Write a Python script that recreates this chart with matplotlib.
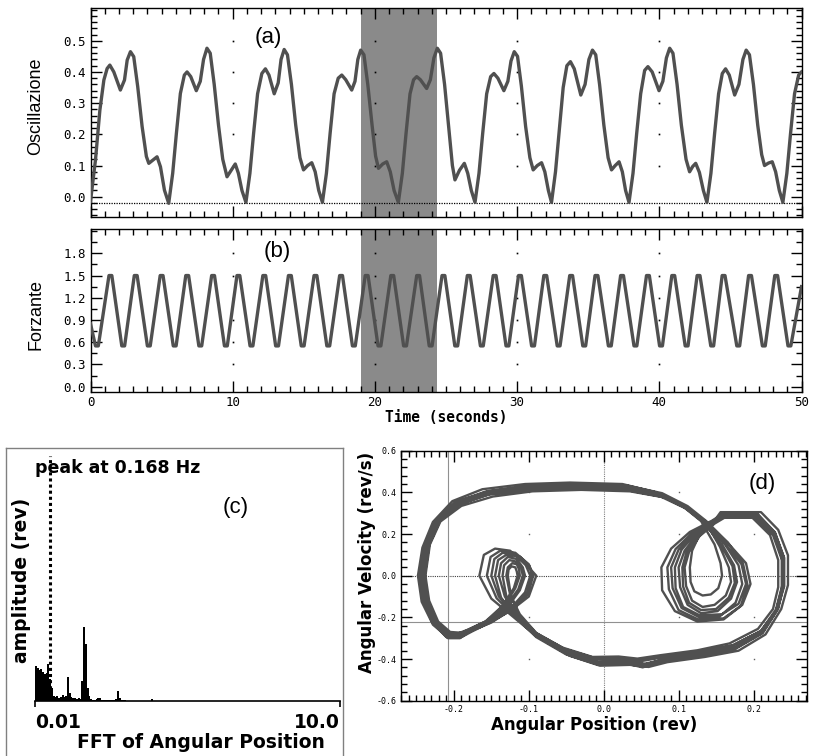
import numpy as np
import matplotlib.pyplot as plt
from matplotlib.ticker import MultipleLocator

# (a) oscillation (seconds / amplitude)
osc_t = [0.00, 0.35, 0.66, 0.94, 1.17, 1.36, 1.64, 2.10, 2.39, 2.58, 2.81, 3.04, 3.32, 3.63, 3.93, 4.10, 4.40, 4.68, 4.92, 5.20,
         5.50, 5.78, 6.04, 6.32, 6.60, 6.79, 7.05, 7.44, 7.72, 7.95, 8.19, 8.42, 8.70, 9.00, 9.30, 9.60, 9.90, 10.18, 10.40, 10.65,
         10.93, 11.21, 11.47, 11.75, 12.05, 12.30, 12.55, 12.92, 13.20, 13.40, 13.62, 13.85, 14.13, 14.43, 14.73, 14.98, 15.27, 15.56, 15.80, 16.05,
         16.31, 16.59, 16.85, 17.13, 17.42, 17.67, 17.95, 18.37, 18.60, 18.80, 19.00, 19.23, 19.50, 19.80, 20.05, 20.25, 20.55, 20.83, 21.08, 21.35,
         21.65, 21.93, 22.19, 22.47, 22.72, 22.94, 23.20, 23.64, 23.90, 24.15, 24.39, 24.62, 24.90, 25.20, 25.45, 25.63, 25.95, 26.29, 26.53, 26.78,
         27.04, 27.32, 27.58, 27.86, 28.14, 28.37, 28.65, 29.07, 29.35, 29.57, 29.80, 30.03, 30.30, 30.60, 30.90, 31.13, 31.42, 31.72, 31.95, 32.20,
         32.42, 32.70, 32.96, 33.24, 33.50, 33.75, 34.02, 34.48, 34.78, 35.05, 35.30, 35.53, 35.80, 36.10, 36.40, 36.64, 36.90, 37.17, 37.40, 37.63,
         37.87, 38.15, 38.41, 38.69, 38.97, 39.20, 39.50, 39.98, 40.25, 40.50, 40.73, 40.96, 41.25, 41.55, 41.88, 42.13, 42.35, 42.56, 42.82, 43.10,
         43.35, 43.63, 43.89, 44.17, 44.43, 44.66, 44.92, 45.30, 45.60, 45.88, 46.11, 46.34, 46.62, 46.92, 47.20, 47.40, 47.68, 47.94, 48.18, 48.44,
         48.69, 48.97, 49.23, 49.51, 49.80, 50.00]
osc_v = [-0.015, 0.118, 0.278, 0.374, 0.411, 0.422, 0.400, 0.342, 0.374, 0.438, 0.465, 0.449, 0.353, 0.225, 0.129, 0.107, 0.118, 0.128, 0.096, 0.021,
         -0.021, 0.075, 0.203, 0.331, 0.390, 0.400, 0.385, 0.340, 0.370, 0.440, 0.476, 0.460, 0.360, 0.230, 0.120, 0.064, 0.085, 0.105, 0.075, 0.020,
         -0.018, 0.075, 0.203, 0.330, 0.395, 0.410, 0.390, 0.330, 0.365, 0.440, 0.472, 0.455, 0.360, 0.230, 0.125, 0.086, 0.100, 0.109, 0.080, 0.020,
         -0.018, 0.075, 0.203, 0.330, 0.380, 0.390, 0.375, 0.342, 0.370, 0.440, 0.470, 0.455, 0.360, 0.230, 0.130, 0.091, 0.105, 0.112, 0.080, 0.020,
         -0.018, 0.075, 0.203, 0.330, 0.375, 0.385, 0.375, 0.347, 0.375, 0.445, 0.476, 0.460, 0.360, 0.220, 0.100, 0.054, 0.085, 0.107, 0.075, 0.020,
         -0.018, 0.075, 0.203, 0.330, 0.385, 0.395, 0.380, 0.340, 0.370, 0.435, 0.465, 0.450, 0.355, 0.225, 0.125, 0.086, 0.100, 0.109, 0.080, 0.020,
         -0.018, 0.080, 0.210, 0.350, 0.420, 0.433, 0.410, 0.326, 0.360, 0.440, 0.470, 0.455, 0.360, 0.230, 0.125, 0.086, 0.100, 0.112, 0.080, 0.020,
         -0.018, 0.075, 0.203, 0.330, 0.405, 0.417, 0.400, 0.340, 0.370, 0.445, 0.476, 0.460, 0.360, 0.230, 0.120, 0.080, 0.097, 0.107, 0.078, 0.020,
         -0.018, 0.075, 0.203, 0.330, 0.395, 0.410, 0.390, 0.326, 0.360, 0.440, 0.470, 0.455, 0.360, 0.230, 0.135, 0.100, 0.108, 0.112, 0.080, 0.020,
         -0.018, 0.075, 0.203, 0.330, 0.390, 0.400]

# (b) forcing: peak and trough times, levels, flat-top half width
force_peak_t = [1.40, 3.18, 5.00, 6.80, 8.62, 10.40, 12.22, 14.02, 15.82,
                17.62, 19.42, 21.22, 23.04, 24.82, 26.60, 28.42, 30.20,
                31.98, 33.80, 35.58, 37.38, 39.20, 40.98, 42.76, 44.52,
                46.38, 48.22]
force_trough_t = [0.45, 2.30, 4.10, 5.92, 7.72, 9.52, 11.32, 13.12, 14.92,
                  16.72, 18.52, 20.32, 22.12, 23.92, 25.72, 27.52, 29.32,
                  31.12, 32.92, 34.72, 36.52, 38.32, 40.12, 41.92, 43.72,
                  45.55, 47.35, 49.15]
force_peak_v = 1.50
force_trough_v = 0.55
force_flat = 0.10
force_start = (0.0, 0.85)
force_end = (50.0, 1.35)

window = (19.0, 24.4)

# (c) spectrum bins (Hz) and amplitudes (rev)
fft_freq = [0.00, 0.02, 0.04, 0.06, 0.08, 0.10, 0.12, 0.14, 0.16, 0.18,
            0.20, 0.22, 0.24, 0.26, 0.28, 0.30, 0.32, 0.34, 0.36, 0.38,
            0.40, 0.42, 0.44, 0.46, 0.48, 0.50, 0.52, 0.54, 0.56, 0.58,
            0.60, 0.62, 0.64, 0.66, 0.68, 0.70, 0.72, 0.74, 0.76, 0.78,
            0.80, 0.82, 0.84, 0.86, 0.88, 0.90, 0.92, 0.94, 0.96, 0.98,
            1.00, 1.30]
fft_amp = [0.035, 0.033, 0.031, 0.032, 0.029, 0.027, 0.028, 0.037, 0.022, 0.013,
           0.005, 0.004, 0.005, 0.003, 0.004, 0.006, 0.004, 0.005, 0.024, 0.008,
           0.004, 0.003, 0.003, 0.002, 0.003, 0.002, 0.020, 0.074, 0.057, 0.013,
           0.005, 0.002, 0.001, 0.001, 0.002, 0.003, 0.003, 0.001, 0.001, 0.001,
           0.001, 0.001, 0.001, 0.001, 0.001, 0.002, 0.010, 0.003, 0.001, 0.001,
           0.001, 0.002]
peak_freq = 0.168

# (d) phase portrait, one list per drive cycle
phase_pos = [
    [-0.244, -0.238, -0.224, -0.196, -0.155, -0.100, -0.040, 0.030, 0.075, 0.110, 0.135,
     0.165, 0.190, 0.196, 0.185, 0.160, 0.125, 0.095, 0.078, 0.077, 0.090, 0.115, 0.145,
     0.158, 0.205, 0.228, 0.240, 0.240, 0.232, 0.212, 0.175, 0.130, 0.080, 0.052, 0.030,
     -0.010, -0.050, -0.090, -0.120, -0.150, -0.166, -0.160, -0.145, -0.125, -0.105,
     -0.090, -0.100, -0.125, -0.155, -0.180, -0.192, -0.208, -0.224, -0.238],
    [-0.238, -0.232, -0.218, -0.190, -0.148, -0.095, -0.030, 0.035, 0.082, 0.114, 0.140,
     0.162, 0.180, 0.185, 0.176, 0.155, 0.128, 0.104, 0.092, 0.090, 0.100, 0.120, 0.146,
     0.160, 0.198, 0.222, 0.233, 0.233, 0.226, 0.206, 0.168, 0.125, 0.075, 0.045, 0.020,
     -0.015, -0.055, -0.092, -0.118, -0.140, -0.150, -0.146, -0.135, -0.118, -0.104,
     -0.098, -0.105, -0.125, -0.150, -0.172, -0.186, -0.205, -0.221, -0.233],
    [-0.248, -0.242, -0.228, -0.202, -0.162, -0.105, -0.045, 0.025, 0.068, 0.106, 0.130,
     0.158, 0.174, 0.178, 0.170, 0.152, 0.130, 0.112, 0.102, 0.100, 0.108, 0.124, 0.146,
     0.156, 0.210, 0.233, 0.246, 0.246, 0.237, 0.216, 0.180, 0.135, 0.085, 0.060, 0.035,
     -0.005, -0.045, -0.085, -0.115, -0.132, -0.140, -0.137, -0.128, -0.116, -0.108,
     -0.105, -0.112, -0.128, -0.152, -0.176, -0.190, -0.210, -0.228, -0.243],
    [-0.241, -0.235, -0.221, -0.193, -0.151, -0.098, -0.035, 0.032, 0.078, 0.112, 0.136,
     0.155, 0.167, 0.170, 0.163, 0.148, 0.132, 0.118, 0.110, 0.108, 0.114, 0.128, 0.148,
     0.162, 0.202, 0.226, 0.238, 0.238, 0.230, 0.210, 0.172, 0.128, 0.078, 0.050, 0.025,
     -0.012, -0.052, -0.090, -0.112, -0.125, -0.130, -0.128, -0.122, -0.116, -0.113,
     -0.112, -0.118, -0.132, -0.155, -0.178, -0.196, -0.212, -0.228, -0.238],
    [-0.245, -0.239, -0.225, -0.199, -0.159, -0.102, -0.042, 0.028, 0.072, 0.106, 0.130,
     0.148, 0.156, 0.158, 0.153, 0.143, 0.132, 0.121, 0.116, 0.115, 0.118, 0.127, 0.145,
     0.158, 0.206, 0.229, 0.241, 0.241, 0.232, 0.212, 0.175, 0.132, 0.082, 0.056, 0.032,
     -0.008, -0.048, -0.088, -0.113, -0.124, -0.128, -0.127, -0.123, -0.118, -0.116,
     -0.115, -0.120, -0.135, -0.158, -0.182, -0.198, -0.214, -0.228, -0.241],
    [-0.239, -0.233, -0.219, -0.193, -0.154, -0.098, -0.038, 0.030, 0.076, 0.110, 0.134,
     0.162, 0.184, 0.190, 0.180, 0.158, 0.128, 0.106, 0.096, 0.095, 0.104, 0.122, 0.146,
     0.160, 0.204, 0.227, 0.238, 0.238, 0.230, 0.210, 0.172, 0.128, 0.078, 0.050, 0.026,
     -0.012, -0.052, -0.090, -0.118, -0.137, -0.145, -0.141, -0.130, -0.112, -0.099,
     -0.095, -0.102, -0.122, -0.150, -0.175, -0.188, -0.206, -0.222, -0.235],
    [-0.243, -0.237, -0.223, -0.196, -0.154, -0.098, -0.036, 0.032, 0.078, 0.112, 0.137,
     0.166, 0.186, 0.192, 0.183, 0.160, 0.126, 0.100, 0.087, 0.085, 0.096, 0.118, 0.146,
     0.158, 0.203, 0.227, 0.239, 0.239, 0.231, 0.211, 0.174, 0.130, 0.080, 0.052, 0.028,
     -0.010, -0.050, -0.090, -0.118, -0.143, -0.156, -0.151, -0.138, -0.118, -0.100,
     -0.094, -0.102, -0.125, -0.155, -0.180, -0.194, -0.210, -0.226, -0.239],
    [-0.243, -0.237, -0.223, -0.197, -0.157, -0.101, -0.040, 0.028, 0.074, 0.109, 0.133,
     0.157, 0.172, 0.175, 0.167, 0.150, 0.130, 0.114, 0.106, 0.105, 0.111, 0.126, 0.147,
     0.159, 0.205, 0.228, 0.240, 0.240, 0.233, 0.213, 0.176, 0.131, 0.081, 0.054, 0.030,
     -0.008, -0.048, -0.087, -0.114, -0.130, -0.135, -0.133, -0.126, -0.117, -0.110,
     -0.108, -0.114, -0.130, -0.154, -0.178, -0.192, -0.209, -0.225, -0.239],
]
phase_vel = [
    [0.000, 0.140, 0.260, 0.350, 0.400, 0.425, 0.432, 0.425, 0.390, 0.330, 0.260,
     0.160, 0.060, -0.040, -0.140, -0.210, -0.220, -0.170, -0.070, 0.040, 0.130, 0.210, 0.265,
     0.295, 0.295, 0.210, 0.090, -0.050, -0.160, -0.270, -0.345, -0.375, -0.400, -0.430, -0.410,
     -0.415, -0.370, -0.290, -0.200, -0.110, 0.000, 0.100, 0.130, 0.120, 0.060,
     0.000, -0.100, -0.170, -0.230, -0.270, -0.300, -0.300, -0.240, -0.130],
    [0.000, 0.150, 0.260, 0.335, 0.380, 0.405, 0.412, 0.405, 0.375, 0.318, 0.250,
     0.150, 0.050, -0.040, -0.130, -0.195, -0.200, -0.155, -0.060, 0.040, 0.125, 0.200, 0.255,
     0.280, 0.280, 0.195, 0.075, -0.055, -0.160, -0.255, -0.325, -0.358, -0.382, -0.398, -0.388,
     -0.390, -0.345, -0.272, -0.190, -0.100, 0.000, 0.080, 0.110, 0.100, 0.050,
     0.000, -0.080, -0.160, -0.220, -0.255, -0.275, -0.270, -0.220, -0.120],
    [0.000, 0.135, 0.258, 0.358, 0.415, 0.440, 0.447, 0.440, 0.402, 0.340, 0.268,
     0.150, 0.050, -0.030, -0.110, -0.170, -0.180, -0.140, -0.055, 0.040, 0.120, 0.195, 0.255,
     0.305, 0.305, 0.220, 0.098, -0.045, -0.160, -0.282, -0.360, -0.390, -0.415, -0.438, -0.428,
     -0.432, -0.385, -0.300, -0.195, -0.100, 0.000, 0.060, 0.090, 0.080, 0.040,
     0.000, -0.070, -0.150, -0.225, -0.268, -0.295, -0.290, -0.235, -0.125],
    [0.000, 0.145, 0.262, 0.345, 0.392, 0.416, 0.424, 0.416, 0.384, 0.326, 0.258,
     0.140, 0.040, -0.030, -0.095, -0.140, -0.150, -0.120, -0.050, 0.040, 0.115, 0.190, 0.250,
     0.280, 0.280, 0.195, 0.075, -0.060, -0.170, -0.265, -0.335, -0.365, -0.390, -0.405, -0.395,
     -0.395, -0.352, -0.275, -0.185, -0.090, 0.000, 0.040, 0.060, 0.055, 0.030,
     0.000, -0.060, -0.140, -0.215, -0.255, -0.285, -0.280, -0.225, -0.120],
    [0.000, 0.140, 0.258, 0.352, 0.402, 0.428, 0.434, 0.428, 0.392, 0.332, 0.262,
     0.150, 0.060, 0.000, -0.060, -0.090, -0.095, -0.075, -0.030, 0.040, 0.120, 0.190, 0.255,
     0.292, 0.292, 0.205, 0.085, -0.050, -0.160, -0.272, -0.345, -0.377, -0.402, -0.425, -0.412,
     -0.412, -0.365, -0.285, -0.190, -0.095, 0.000, 0.030, 0.045, 0.040, 0.020,
     0.000, -0.060, -0.145, -0.220, -0.260, -0.282, -0.278, -0.228, -0.122],
    [0.000, 0.148, 0.262, 0.342, 0.390, 0.412, 0.420, 0.412, 0.380, 0.322, 0.254,
     0.155, 0.055, -0.040, -0.135, -0.185, -0.190, -0.150, -0.060, 0.040, 0.125, 0.200, 0.258,
     0.286, 0.286, 0.205, 0.085, -0.050, -0.162, -0.265, -0.335, -0.368, -0.392, -0.410, -0.398,
     -0.400, -0.356, -0.280, -0.195, -0.105, 0.000, 0.075, 0.100, 0.092, 0.045,
     0.000, -0.085, -0.160, -0.225, -0.262, -0.285, -0.282, -0.228, -0.125],
    [0.000, 0.142, 0.262, 0.354, 0.406, 0.432, 0.439, 0.432, 0.396, 0.334, 0.262,
     0.158, 0.058, -0.045, -0.145, -0.205, -0.210, -0.165, -0.065, 0.040, 0.128, 0.205, 0.262,
     0.298, 0.298, 0.212, 0.092, -0.052, -0.165, -0.278, -0.355, -0.386, -0.410, -0.440, -0.420,
     -0.424, -0.378, -0.295, -0.198, -0.108, 0.000, 0.090, 0.120, 0.110, 0.055,
     0.000, -0.090, -0.165, -0.228, -0.268, -0.298, -0.295, -0.235, -0.128],
    [0.000, 0.138, 0.258, 0.350, 0.402, 0.427, 0.434, 0.427, 0.392, 0.332, 0.262,
     0.145, 0.045, -0.035, -0.105, -0.160, -0.165, -0.130, -0.052, 0.040, 0.118, 0.192, 0.252,
     0.296, 0.296, 0.210, 0.090, -0.048, -0.158, -0.272, -0.348, -0.378, -0.403, -0.423, -0.413,
     -0.416, -0.370, -0.290, -0.192, -0.098, 0.000, 0.050, 0.075, 0.068, 0.035,
     0.000, -0.065, -0.145, -0.220, -0.260, -0.288, -0.284, -0.230, -0.124],
]

W, H = 815, 756
LINE = '#505050'
SHADE = '#8a8a8a'
MONO = 'DejaVu Sans Mono'


def box(x0, y0, x1, y1):
    # pixel box (top-left origin) -> figure fraction rect
    return [x0 / W, 1 - y1 / H, (x1 - x0) / W, (y1 - y0) / H]


def frame_ticks(ax, major_len=8, minor_len=4, size=9):
    ax.tick_params(which='both', direction='in', top=True, right=True, width=1, color='black')
    ax.tick_params(which='major', length=major_len, labelsize=size)
    ax.tick_params(which='minor', length=minor_len)
    for lbl in ax.get_xticklabels() + ax.get_yticklabels():
        lbl.set_family(MONO)
    for s in ax.spines.values():
        s.set_linewidth(1.0)


fig = plt.figure(figsize=(W / 100, H / 100), dpi=100)

# ---- (a) oscillation
ax_a = fig.add_axes(box(90.5, 8, 801.5, 217))
ax_a.axvspan(*window, color=SHADE, lw=0, zorder=0)
ax_a.axhline(-0.02, color='black', ls=(0, (1, 1)), lw=0.9, zorder=1)
gx, gy = np.meshgrid([10, 20, 30, 40], [0.1, 0.2, 0.3, 0.4, 0.5])
ax_a.plot(gx.ravel(), gy.ravel(), 's', ms=1.2, color='black', mew=0, zorder=1)
ax_a.plot(osc_t, osc_v, color=LINE, lw=2.4, solid_joinstyle='round', zorder=3)
ax_a.set_xlim(0, 50)
ax_a.set_ylim(-0.065, 0.605)
ax_a.xaxis.set_major_locator(MultipleLocator(10))
ax_a.xaxis.set_minor_locator(MultipleLocator(1))
ax_a.yaxis.set_minor_locator(MultipleLocator(0.02))
ax_a.set_yticks([0, 0.1, 0.2, 0.3, 0.4, 0.5])
ax_a.set_yticklabels(['0.0', '0.1', '0.2', '0.3', '0.4', '0.5'])
ax_a.set_xticklabels([])
frame_ticks(ax_a)
fig.text(268 / W, 1 - 37 / H, '(a)', fontsize=16, ha='center', va='center',
         family='Liberation Sans')
fig.text(36 / W, 1 - 106 / H, 'Oscillazione', rotation=90, fontsize=13,
         ha='center', va='center', family='Liberation Sans')

# ---- (b) forcing (flat tops/bottoms as drawn by the logger)
pk = np.asarray(force_peak_t)
tr = np.asarray(force_trough_t)
force_t = np.concatenate([[force_start[0]], pk - force_flat, pk + force_flat,
                          tr - force_flat, tr + force_flat, [force_end[0]]])
force_v = np.concatenate([[force_start[1]], np.full(2 * len(pk), force_peak_v),
                          np.full(2 * len(tr), force_trough_v), [force_end[1]]])
keep = (force_t >= 0) & (force_t <= 50)
order = np.argsort(force_t[keep])

ax_b = fig.add_axes(box(90.5, 229, 801.5, 392))
ax_b.axvspan(*window, color=SHADE, lw=0, zorder=0)
gx, gy = np.meshgrid([10, 20, 30, 40], [0.3, 0.6, 0.9, 1.2, 1.5, 1.8])
ax_b.plot(gx.ravel(), gy.ravel(), 's', ms=1.2, color='black', mew=0, zorder=1)
ax_b.plot(force_t[keep][order], force_v[keep][order], color=LINE, lw=2.4,
          solid_joinstyle='round', zorder=3)
ax_b.set_xlim(0, 50)
ax_b.set_ylim(-0.072, 2.128)
ax_b.xaxis.set_minor_locator(MultipleLocator(1))
ax_b.set_yticks([0, 0.3, 0.6, 0.9, 1.2, 1.5, 1.8])
ax_b.set_yticklabels(['0.0', '0.3', '0.6', '0.9', '1.2', '1.5', '1.8'])
ax_b.yaxis.set_minor_locator(MultipleLocator(0.15))
ax_b.set_xticks([0, 10, 20, 30, 40, 50])
ax_b.set_xticklabels(['0', '10', '20', '30', '40', '50'])
frame_ticks(ax_b)
ax_b.tick_params(axis='x', pad=3)
fig.text(277 / W, 1 - 252 / H, '(b)', fontsize=16, ha='center', va='center',
         family='Liberation Sans')
fig.text(36 / W, 1 - 314 / H, 'Forzante', rotation=90, fontsize=13,
         ha='center', va='center', family='Liberation Sans')
fig.text(446 / W, 1 - 417 / H, 'Time (seconds)', fontsize=10.5, fontweight='bold',
         ha='center', va='center', family=MONO)

# ---- (c) spectrum
ax_cf = fig.add_axes(box(6, 448, 343, 756))
ax_cf.set_xticks([])
ax_cf.set_yticks([])
ax_cf.spines['bottom'].set_visible(False)
for s in ('left', 'top', 'right'):
    ax_cf.spines[s].set_color('#808080')
    ax_cf.spines[s].set_linewidth(1.0)
ax_cf.patch.set_alpha(0)

ax_c = fig.add_axes(box(35, 450.7, 340, 700.7))
ax_c.bar(fft_freq, fft_amp, width=0.02, align='edge', color='black', lw=0)
ax_c.axvline(peak_freq, ymin=0, ymax=0.98, color='black', ls=(0, (1, 1)), lw=2.2)
ax_c.set_xlim(0, 3.42)
ax_c.set_ylim(0, 0.25)
ax_c.set_yticks([])
for s in ('left', 'top', 'right'):
    ax_c.spines[s].set_visible(False)
ax_c.spines['bottom'].set_linewidth(1.2)
ax_c.set_xticks([0, 3.42])
ax_c.set_xticklabels(['0.01', '10.0'], fontsize=13.5, fontweight='bold', family='DejaVu Sans')
for lbl, ha in zip(ax_c.get_xticklabels(), ['left', 'right']):
    lbl.set_horizontalalignment(ha)
ax_c.tick_params(axis='x', direction='out', length=4, width=1.2, pad=5)
ax_c.patch.set_alpha(0)
fig.text(35 / W, 1 - 468 / H, 'peak at 0.168 Hz', fontsize=12.5, fontweight='bold',
         ha='left', va='center', family='DejaVu Sans')
fig.text(236 / W, 1 - 508 / H, '(c)', fontsize=16, ha='center', va='center',
         family='Liberation Sans')
fig.text(22 / W, 1 - 580 / H, 'amplitude (rev)', rotation=90, fontsize=13.5,
         fontweight='bold', ha='center', va='center', family='DejaVu Sans')
fig.text(325 / W, 1 - 742 / H, 'FFT of Angular Position', fontsize=13.5,
         fontweight='bold', ha='right', va='center', family='DejaVu Sans')

# ---- (d) phase portrait
ax_d = fig.add_axes(box(400.7, 450.7, 806.7, 700.7))
ax_d.axvline(0, color='#808080', ls=(0, (1, 1)), lw=0.8, zorder=1)
ax_d.axhline(0, color='#404040', ls=(0, (1, 1)), lw=0.8, zorder=1)
ax_d.axvline(-0.208, color='#909090', lw=0.8, zorder=1)
ax_d.axhline(-0.221, color='#909090', lw=0.8, zorder=1)
gx, gy = np.meshgrid([-0.1, 0.1, 0.2], [-0.4, -0.2, 0.2, 0.4])
ax_d.plot(gx.ravel(), gy.ravel(), 's', ms=1.0, color='#606060', mew=0, zorder=1)
px = np.concatenate([np.append(p, p[0]) for p in phase_pos])
pv = np.concatenate([np.append(v, v[0]) for v in phase_vel])
ax_d.plot(px, pv, color=LINE, lw=1.7, solid_joinstyle='round', zorder=3)
ax_d.set_xlim(-0.271, 0.271)
ax_d.set_ylim(-0.6, 0.6)
ax_d.set_xticks([-0.2, -0.1, 0.0, 0.1, 0.2])
ax_d.set_xticklabels(['-0.2', '-0.1', '0.0', '0.1', '0.2'])
ax_d.xaxis.set_minor_locator(MultipleLocator(0.01))
ax_d.set_yticks([-0.6, -0.4, -0.2, 0.0, 0.2, 0.4, 0.6])
ax_d.set_yticklabels(['-0.6', '-0.4', '-0.2', '0.0', '0.2', '0.4', '0.6'])
ax_d.yaxis.set_minor_locator(MultipleLocator(0.04))
frame_ticks(ax_d, major_len=8, minor_len=4, size=6)
ax_d.tick_params(pad=3)
fig.text(762 / W, 1 - 484 / H, '(d)', fontsize=16, ha='center', va='center',
         family='Liberation Sans')
fig.text(594 / W, 1 - 725 / H, 'Angular Position (rev)', fontsize=12,
         fontweight='bold', ha='center', va='center', family='DejaVu Sans')
fig.text(367 / W, 1 - 562 / H, 'Angular Velocity (rev/s)', rotation=90, fontsize=12,
         fontweight='bold', ha='center', va='center', family='DejaVu Sans')

fig.savefig('out.png', dpi=100)
